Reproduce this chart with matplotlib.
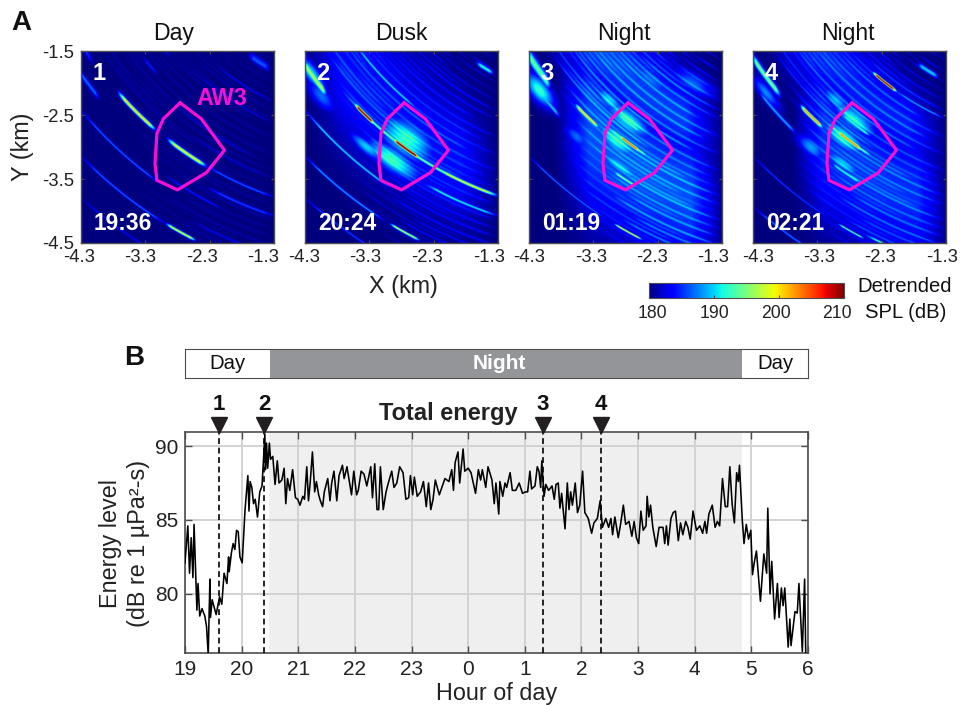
import numpy as np
import matplotlib
matplotlib.use('Agg')
import matplotlib.pyplot as plt

plt.rcParams['font.family'] = ['Liberation Sans', 'DejaVu Sans']

W, H = 961, 705

# panel A: values
panel_titles = ['Day', 'Dusk', 'Night', 'Night']
panel_numbers = ['1', '2', '3', '4']
panel_times = ['19:36', '20:24', '01:19', '02:21']
map_xticks = [-4.3, -3.3, -2.3, -1.3]
map_yticks = [-1.5, -2.5, -3.5, -4.5]
map_xlabels = ['-4.3', '-3.3', '-2.3', '-1.3']
map_ylabels = ['-1.5', '-2.5', '-3.5', '-4.5']
aw3_x = [-2.76, -3.02, -3.12, -3.15, -3.12, -2.80, -2.35, -2.07, -2.43, -2.76]
aw3_y = [-2.31, -2.56, -2.79, -3.26, -3.52, -3.67, -3.40, -3.05, -2.56, -2.31]
arc_centre = (0.5, 1.5)

# arcs: radius from arc_centre, x start, x end, dB, width
arcs_1 = [
    (5.58, -3.75, -3.12, 201, .026), (5.58, -2.98, -2.33, 199, .028), (5.58, -2.4, -1.25, 186, .016),
    (5.86, -2.35, -1.25, 186, .018), (6.2, -4.35, -3.0, 187, .016), (6.68, -4.35, -2.9, 187, .016),
    (6.68, -3.0, -2.5, 199, .02), (7.15, -4.35, -3.1, 183.5, .014), (5.86, -4.35, -4.0, 187, .03),
    (5.6, -4.35, -4.1, 185, .03), (3.76, -1.7, -1.35, 186, .05), (4.93, -3.35, -3.1, 185, .015),
    (4.6, -3.05, -2.9, 184, .015), (4.5, -2.6, -1.3, 183, .012), (4.2, -2.2, -1.3, 183, .012),
    (5.1, -2.9, -1.5, 182.5, .012), (5.3, -2.6, -1.3, 182.5, .012), (6.05, -3.0, -2.1, 184, .014),
    (6.45, -2.6, -1.3, 183, .012),
]
arcs_2 = [
    (5.3, -4.35, -1.25, 184, .8), (5.56, -3.9, -1.25, 193, .024), (5.56, -3.55, -3.2, 211, .024),
    (5.56, -2.95, -2.5, 211, .024), (5.56, -2.3, -1.25, 197, .024), (5.86, -2.5, -1.25, 191, .02),
    (5.78, -4.35, -3.95, 197, .045), (6.2, -4.35, -2.9, 191, .018), (6.68, -4.35, -3.0, 189, .016),
    (6.68, -3.0, -2.5, 198, .018), (7.15, -4.35, -3.0, 186, .014), (3.83, -1.65, -1.35, 192, .03),
    (4.95, -3.6, -2.5, 189, .02),
]
arcs_3 = [
    (5.75, -3.9, -1.25, 186, 1.0), (4.7, -4.35, -1.25, 185.5, .55), (5.6, -3.6, -3.2, 201, .024),
    (5.5, -2.92, -2.55, 202, .024), (5.5, -3.1, -2.4, 192, .024), (6.68, -4.35, -3.0, 188, .012),
    (6.68, -3.0, -2.52, 200, .014), (6.0, -3.0, -2.6, 194, .024), (5.25, -2.95, -2.55, 194, .024),
    (5.7, -4.35, -3.95, 194, .06), (5.9, -4.25, -3.8, 190, .03),
]
arcs_4 = [
    (5.75, -3.7, -1.25, 185, .95), (4.8, -4.35, -1.25, 184.5, .5), (5.6, -3.58, -3.2, 203, .026),
    (5.5, -3.02, -2.58, 201, .028), (5.5, -3.2, -2.4, 192, .024), (6.68, -4.35, -3.0, 186, .012),
    (6.68, -3.0, -2.55, 195, .014), (5.95, -3.1, -2.6, 192, .024), (5.25, -2.95, -2.45, 193, .024),
    (5.72, -4.35, -3.85, 195, .04), (5.95, -4.25, -3.6, 189, .024), (4.44, -2.45, -2.05, 208, .02),
    (4.44, -2.1, -1.3, 187, .014), (3.9, -1.75, -1.4, 190, .03), (6.62, -2.6, -1.6, 191, .02),
    (7.25, -4.3, -3.2, 188, .014),
]
arcs_by_panel = [arcs_1, arcs_2, arcs_3, arcs_4]

# diffuse patches: x, y, length along arc, width across arc, dB
patches_1 = []
patches_2 = [(-2.72, -2.88, .45, .26, 191.5), (-2.95, -3.2, .45, .15, 192.5), (-4.05, -2.2, .28, .12, 187),
             (-3.35, -3.0, .3, .08, 190), (-4.2, -1.85, .3, .1, 191)]
patches_3 = [(-2.76, -2.58, .4, .15, 191.5), (-3.05, -2.27, .24, .1, 189.5), (-2.94, -2.9, .36, .16, 191),
             (-2.89, -3.31, .36, .1, 189.5), (-4.14, -2.11, .3, .13, 192.5), (-3.56, -2.84, .22, .1, 187),
             (-2.4, -1.95, .4, .15, 186.5), (-1.75, -2.0, .35, .15, 186.5)]
patches_4 = [(-2.73, -2.56, .38, .14, 191), (-3.01, -2.27, .24, .1, 188.5), (-2.9, -2.85, .36, .15, 191),
             (-2.9, -3.26, .3, .09, 189.5), (-3.4, -3.0, .24, .11, 188.5), (-4.1, -2.15, .28, .08, 188)]
patches_by_panel = [patches_1, patches_2, patches_3, patches_4]

# thin faint arcs that all the maps share; strength differs by time of night
fine_r = [3.62, 3.7, 3.78, 3.85, 3.93, 3.99, 4.06, 4.13, 4.19, 4.26, 4.33, 4.38, 4.45, 4.52, 4.58, 4.64, 4.71, 4.77,
          4.83, 4.9, 4.96, 5.02, 5.07, 5.14, 5.2, 5.27, 5.33, 5.38, 5.45, 5.51, 5.57, 5.63, 5.7, 5.76, 5.82, 5.88,
          5.93, 6.0, 6.06, 6.12, 6.18, 6.25, 6.31, 6.37, 6.43, 6.49, 6.55, 6.62, 6.68, 6.73, 6.8, 6.86, 6.92, 6.98,
          7.05, 7.11]
fine_x0 = [-1.9, -2.1, -1.8, -2.4, -2.0, -2.7, -2.3, -2.9, -2.5, -3.1, -2.6, -3.3, -2.9, -3.5, -3.0, -3.7, -3.2, -3.9,
           -3.4, -4.1, -3.6, -4.3, -3.7, -4.3, -3.5, -4.3, -3.9, -4.0, -3.4, -3.8, -3.3, -3.9, -3.1, -3.6, -3.2, -3.5,
           -2.9, -3.6, -3.1, -3.6, -2.8, -3.7, -3.0, -3.6, -2.7, -3.5, -2.9, -3.4, -2.6, -3.3, -2.7, -3.2, -2.5, -3.1,
           -2.6, -2.9]
fine_x1 = [-1.3, -1.5, -1.3, -1.6, -1.3, -1.9, -1.3, -2.0, -1.3, -1.8, -1.3, -2.2, -1.3, -2.3, -1.6, -2.6, -1.3, -2.8,
           -1.5, -3.0, -1.3, -3.2, -1.7, -2.8, -1.3, -3.0, -1.4, -2.4, -1.3, -1.8, -1.3, -2.2, -1.3, -1.9, -1.3, -1.7,
           -1.3, -2.1, -1.3, -1.9, -1.3, -2.3, -1.3, -1.8, -1.3, -2.0, -1.3, -1.7, -1.3, -1.9, -1.3, -1.8, -1.3, -1.6,
           -1.3, -1.5]
fine_db = [3, 2, 3.5, 2, 2.5, 3, 2, 3.5, 2.5, 3, 4, 2, 3, 2.5, 3.5, 2, 3, 2.5, 3.5, 2, 3, 2.5, 4, 2, 3, 3.5, 2.5, 4,
           2, 3, 3.5, 1.5, 3, 2.5, 1, 2.5, 3.5, 1, 3, 1.5, 3.5, 1, 4, 1.5, 3.5, 2, 4, 1.5, 3, 1.5, 3, 1.5, 2.5, 1.5,
           2, 1]
fine_strength = [0.3, 0.8, 1.2, 1.0]

cbar_ticks = [180, 190, 200, 210]

# panel B: energy trace
hours_a = [19.00, 19.05, 19.08, 19.11, 19.14, 19.16, 19.21, 19.23, 19.26, 19.30, 19.35, 19.38, 19.41, 19.44, 19.45,
           19.48, 19.55, 19.61, 19.65, 19.69, 19.74, 19.77, 19.78, 19.82, 19.85, 19.88, 19.91, 19.94, 19.97, 20.01]
energy_a = [82.1, 84.6, 81.4, 83.8, 81.1, 84.7, 78.9, 80.7, 78.5, 79.0, 78.5, 77.8, 75.9, 81.0, 78.4,
            79.6, 78.6, 79.8, 79.3, 81.4, 80.7, 82.5, 81.5, 82.8, 83.4, 83.0, 84.3, 84.2, 82.5, 82.1]
hours_b = [20.06, 20.11, 20.13, 20.15, 20.18, 20.21, 20.24, 20.28, 20.32, 20.36, 20.41, 20.42, 20.44, 20.46, 20.49,
           20.51, 20.55, 20.59, 20.63, 20.66, 20.71, 20.75, 20.78, 20.81, 20.85, 20.90, 20.95, 20.99, 21.03, 21.08,
           21.11, 21.15, 21.18, 21.21, 21.25, 21.29, 21.32, 21.36, 21.39, 21.43, 21.46, 21.52, 21.56, 21.59, 21.63,
           21.68, 21.72, 21.78, 21.81, 21.86, 21.94, 21.98, 22.03, 22.06, 22.11, 22.16, 22.21, 22.28, 22.31, 22.35,
           22.39, 22.42, 22.45, 22.50, 22.55, 22.59, 22.65, 22.69, 22.74, 22.79, 22.85, 22.90, 22.95, 22.98, 23.02,
           23.05, 23.10, 23.16, 23.21, 23.26, 23.30, 23.34, 23.38, 23.42, 23.49, 23.59, 23.66, 23.71, 23.74, 23.77,
           23.82, 23.85, 23.91, 23.94, 24.00, 24.05, 24.13, 24.18, 24.22, 24.25, 24.31, 24.35]
energy_b = [85.7, 88.0, 85.6, 87.6, 87.2, 86.1, 86.4, 85.2, 86.9, 87.3, 90.8, 88.4, 90.2, 88.5, 90.2,
            89.1, 89.3, 87.4, 89.0, 87.5, 87.7, 88.5, 86.1, 87.8, 87.0, 88.4, 86.5, 86.4, 86.0, 86.6,
            86.4, 88.6, 86.3, 87.5, 89.6, 86.9, 87.6, 86.7, 86.3, 85.9, 86.9, 87.8, 86.3, 87.5, 88.3,
            86.3, 88.0, 88.7, 87.8, 88.6, 86.7, 88.3, 86.7, 87.0, 88.3, 88.1, 87.3, 88.6, 86.5, 88.8,
            85.7, 85.7, 88.6, 85.7, 86.9, 87.5, 88.3, 87.2, 87.5, 88.6, 88.2, 86.4, 86.5, 88.0, 86.7,
            87.9, 86.6, 86.9, 87.6, 85.9, 87.5, 85.7, 86.4, 87.7, 86.7, 87.8, 87.6, 88.4, 87.0, 88.9,
            89.6, 87.5, 89.8, 88.3, 88.5, 88.2, 86.8, 88.4, 87.7, 88.4, 87.2, 88.6]
hours_c = [24.42, 24.46, 24.49, 24.54, 24.56, 24.61, 24.65, 24.68, 24.74, 24.78, 24.84, 24.90, 24.96, 25.01, 25.05,
           25.09, 25.12, 25.18, 25.22, 25.25, 25.28, 25.30, 25.34, 25.37, 25.42, 25.48, 25.52, 25.55, 25.59, 25.62,
           25.65, 25.71, 25.75, 25.78, 25.81, 25.84, 25.89, 25.93, 25.97, 26.02, 26.06, 26.12, 26.18, 26.22, 26.28,
           26.33, 26.37, 26.43, 26.48, 26.52, 26.55, 26.59, 26.65, 26.69, 26.74, 26.78, 26.84, 26.89, 26.93, 26.97,
           27.01, 27.05, 27.09, 27.14, 27.16, 27.19, 27.22, 27.26, 27.32, 27.37, 27.44, 27.47, 27.50, 27.53, 27.58,
           27.62, 27.66, 27.71, 27.75, 27.79, 27.84, 27.88, 27.92, 27.97, 28.03, 28.09, 28.14, 28.18, 28.21, 28.25,
           28.31, 28.36, 28.40, 28.44, 28.49, 28.54, 28.58, 28.62, 28.66, 28.70, 28.74, 28.77, 28.79, 28.84, 28.87,
           28.91, 28.95, 28.99, 29.02, 29.05, 29.09, 29.16, 29.22, 29.27, 29.29, 29.33, 29.36, 29.41, 29.46, 29.49,
           29.53, 29.56, 29.59, 29.65, 29.68, 29.70, 29.74, 29.77, 29.81, 29.84, 29.90, 29.94, 29.96]
energy_c = [87.7, 86.1, 87.5, 85.4, 87.6, 86.6, 87.5, 87.2, 88.2, 87.0, 87.0, 87.5, 86.8, 86.9, 86.9,
            88.3, 87.1, 87.3, 88.6, 88.3, 87.2, 89.0, 86.6, 87.4, 87.0, 87.3, 86.4, 87.4, 87.5, 85.8,
            86.8, 84.4, 87.5, 85.7, 86.9, 86.0, 87.5, 85.5, 86.0, 88.3, 85.5, 85.1, 84.1, 84.8, 85.1,
            86.3, 84.5, 85.1, 84.5, 85.1, 84.0, 85.2, 83.8, 84.7, 86.0, 84.7, 84.9, 83.9, 84.9, 83.8,
            83.4, 85.6, 84.3, 84.6, 86.6, 85.2, 86.0, 84.5, 83.2, 84.5, 84.5, 83.4, 84.6, 83.3, 85.1,
            85.5, 85.6, 83.6, 84.8, 84.0, 84.9, 84.5, 83.7, 85.6, 84.3, 84.6, 84.1, 84.9, 84.1, 85.4,
            86.0, 84.5, 84.9, 84.6, 87.8, 85.9, 85.9, 88.6, 86.1, 84.8, 88.2, 87.6, 88.7, 85.0, 83.4,
            84.7, 83.7, 84.3, 81.3, 82.1, 82.9, 79.5, 82.7, 81.4, 85.8, 80.0, 82.2, 78.3, 80.7, 78.4,
            80.4, 79.2, 80.4, 76.4, 78.3, 76.5, 77.8, 78.8, 78.7, 80.7, 76.1, 81.0, 76.0]
hour_ticks = [19, 20, 21, 22, 23, 24, 25, 26, 27, 28, 29, 30]
hour_labels = ['19', '20', '21', '22', '23', '0', '1', '2', '3', '4', '5', '6']
energy_ticks = [80, 85, 90]
snapshot_hours = [19.6, 20.4, 25.32, 26.35]
night_start, night_end = 20.48, 28.83


def px_axes(fig, x0, y0, x1, y1):
    return fig.add_axes([x0/W, 1 - y1/H, (x1-x0)/W, (y1-y0)/H])


def px_text(fig, x, y, s, **kw):
    kw.setdefault('ha', 'center')
    kw.setdefault('va', 'center')
    fig.text(x/W, 1 - y/H, s, **kw)


def render_map(arcs, patches, strength):
    xs = np.linspace(-4.3, -1.3, 420)
    ys = np.linspace(-4.5, -1.5, 420)
    X, Y = np.meshgrid(xs, ys)
    R = np.hypot(X - arc_centre[0], Y - arc_centre[1])
    T = np.arctan2(Y - arc_centre[1], X - arc_centre[0])
    field = np.full(X.shape, 180.0)
    for r0, x0, x1, db, w in arcs:
        edge = max(0.08, (x1 - x0)*0.2)
        along = np.clip(np.minimum(X - x0, x1 - X)/edge, 0, 1)
        field = np.maximum(field, 180 + (db - 180)*along*np.exp(-((R - r0)/w)**2))
    for xc, yc, sl, sr, db in patches:
        rc = np.hypot(xc - arc_centre[0], yc - arc_centre[1])
        tc = np.arctan2(yc - arc_centre[1], xc - arc_centre[0])
        s = (T - tc)*rc
        field = np.maximum(field, 180 + (db - 180)*np.exp(-(s/sl)**2 - ((R - rc)/sr)**2))
    # the thin arcs add on top so they stay visible as stripes in the bright parts
    for r0, x0, x1, db in zip(fine_r, fine_x0, fine_x1, fine_db):
        along = np.clip(np.minimum(X - x0, x1 - X)/0.25, 0, 1)
        field = field + strength*db*along*np.exp(-((R - r0)/0.016)**2)
    return field


fig = plt.figure(figsize=(W/100, H/100), dpi=100)
edge_col = '#4d4d4d'
text_col = '#222222'

panel_lefts = [81, 305, 529, 753]
title_centres = [174, 401.5, 623.5, 848]
xlabel_centres = [[79, 140.5, 202, 263], [304, 365.5, 427, 489], [529, 591, 652, 713.5], [758, 819, 880, 942]]
ylabel_centres = [53, 117, 181, 244]
for i, left in enumerate(panel_lefts):
    ax = px_axes(fig, left, 51, left + 193, 243)
    im = ax.imshow(render_map(arcs_by_panel[i], patches_by_panel[i], fine_strength[i]), origin='lower', cmap='jet',
                   vmin=180, vmax=210, extent=[-4.3, -1.3, -4.5, -1.5], aspect='auto', interpolation='bilinear')
    ax.plot(aw3_x, aw3_y, color='#fa10d4', lw=2.3, solid_joinstyle='round')
    ax.set_xlim(-4.3, -1.3)
    ax.set_ylim(-4.5, -1.5)
    ax.set_xticks(map_xticks)
    ax.set_yticks(map_yticks)
    ax.set_xticklabels([])
    ax.set_yticklabels([])
    ax.tick_params(direction='in', length=2.5, width=0.8, color=edge_col, top=True, right=True)
    for sp in ax.spines.values():
        sp.set_color(edge_col)
        sp.set_linewidth(1.0)
    # labels in the figure sit a little off their ticks, so they are placed by hand
    for cx, lab in zip(xlabel_centres[i], map_xlabels):
        px_text(fig, cx, 258, lab, fontsize=13.3, color=text_col)
    if i == 0:
        for cy, lab in zip(ylabel_centres, map_ylabels):
            px_text(fig, 74, cy, lab, fontsize=13.3, color=text_col, ha='right')
    px_text(fig, title_centres[i], 40, panel_titles[i], fontsize=16.6, color='#111111', va='baseline')
    ax.text(0.06, 0.885, panel_numbers[i], transform=ax.transAxes, color='white', fontsize=17,
            fontweight='bold', va='center')
    ax.text(0.067, 0.10, panel_times[i], transform=ax.transAxes, color='white', fontsize=16.4,
            fontweight='bold', va='center')
    if i == 0:
        ax.text(0.73, 0.755, 'AW3', transform=ax.transAxes, color='#fa10d4', fontsize=16.8,
                fontweight='bold', ha='center', va='center')

px_text(fig, 23, 147, 'Y (km)', fontsize=16.8, color=text_col, rotation=90)
px_text(fig, 403, 287, 'X (km)', fontsize=16.8, color=text_col)
px_text(fig, 21, 23, 'A', fontsize=20, fontweight='bold', color='#111111')
px_text(fig, 134, 358, 'B', fontsize=20, fontweight='bold', color='#111111')

# colourbar
cax = px_axes(fig, 649, 283, 844, 298)
cb = fig.colorbar(im, cax=cax, orientation='horizontal')
cb.set_ticks(cbar_ticks)
cb.set_ticklabels([])
cb.ax.tick_params(direction='in', length=2, width=0.8, color=edge_col)
cb.outline.set_edgecolor(edge_col)
for cx, v in zip([652, 714.5, 776.5, 837], cbar_ticks):
    px_text(fig, cx, 313, str(v), fontsize=12.7, color=text_col)
px_text(fig, 905, 287, 'Detrended', fontsize=14.6, color='#111111')
px_text(fig, 906, 313, 'SPL (dB)', fontsize=14.6, color='#111111')

# day/night bar
bar = px_axes(fig, 185, 349, 808, 378)
bar.axvspan(night_start + 0.02, night_end, color='#939598', lw=0)
bar.set_xlim(19, 30)
bar.set_ylim(0, 1)
bar.set_xticks([])
bar.set_yticks([])
for sp in bar.spines.values():
    sp.set_color(edge_col)
bar.text(19.75, 0.5, 'Day', ha='center', va='center', fontsize=14.6, color='#111111')
bar.text(24.55, 0.5, 'Night', ha='center', va='center', fontsize=15, color='white', fontweight='bold')
bar.text(29.42, 0.5, 'Day', ha='center', va='center', fontsize=14.6, color='#111111')

# energy trace
ax = px_axes(fig, 185, 432, 808, 653)
hours = hours_a + hours_b + hours_c
energy = energy_a + energy_b + energy_c
ax.axvspan(night_start, night_end, color='#efefef', lw=0, zorder=0)
ax.set_axisbelow(True)
ax.grid(True, color='#d2d2d2', lw=1.4)
ax.plot(hours, energy, color='black', lw=1.15, zorder=3)
ax.set_xlim(19, 30)
ax.set_ylim(76, 90.95)
ax.set_xticks(hour_ticks)
ax.set_xticklabels(hour_labels, fontsize=15, color=text_col)
ax.set_yticks(energy_ticks)
ax.set_yticklabels([str(v) for v in energy_ticks], fontsize=15, color=text_col)
ax.tick_params(direction='in', length=5, width=1.0, color=edge_col, top=True, right=True, pad=5)
for sp in ax.spines.values():
    sp.set_color(edge_col)
    sp.set_linewidth(1.2)
ax.set_xlabel('Hour of day', fontsize=16.8, color=text_col, labelpad=2)
px_text(fig, 110, 543, 'Energy level', fontsize=16.8, rotation=90, color=text_col)
px_text(fig, 138, 543, '(dB re 1 µPa²-s)', fontsize=16.8, rotation=90, color=text_col)

trans = ax.get_xaxis_transform()
for num, h in zip(panel_numbers, snapshot_hours):
    ax.vlines(h, 76, 90.95, color='black', lw=1.2, linestyles=(0, (3.5, 2.2)), zorder=4)
    ax.plot([h], [1.031], marker='v', ms=11.5, color='#231f20', transform=trans, clip_on=False, zorder=5)
    ax.text(h, 1.125, num, transform=trans, ha='center', va='center', fontsize=16, fontweight='bold',
            color='#111111')
px_text(fig, 448, 414, 'Total energy', fontsize=17, fontweight='bold', color=text_col)

fig.savefig('out.png', dpi=100)
